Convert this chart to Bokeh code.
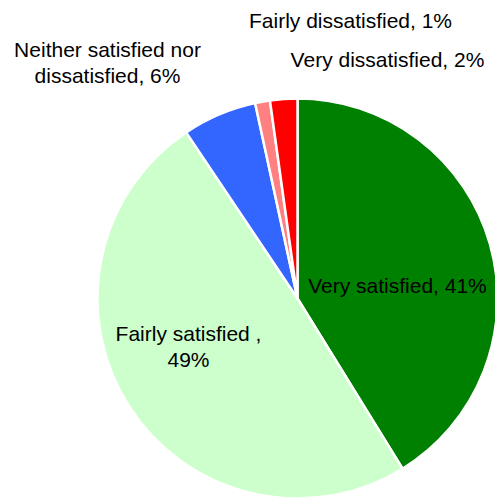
import math
from bokeh.plotting import figure
from bokeh.models import Range1d, ColumnDataSource
from bokeh.core.properties import value
from bokeh.embed import file_html
from bokeh.resources import INLINE

categories = ["Very satisfied", "Fairly satisfied ", "Neither satisfied nor dissatisfied",
              "Fairly dissatisfied", "Very dissatisfied"]
values = [41.2, 49.4, 6.0, 1.2, 2.2]
colors = ["#008000", "#ccffcc", "#3366ff", "#ff8080", "#ff0000"]
label_texts = ["Very satisfied, 41%", "Fairly satisfied ,\n49%", "Neither satisfied nor\ndissatisfied, 6%",
               "Fairly dissatisfied, 1%", "Very dissatisfied, 2%"]
# label anchor positions in pixels (x, y from top)
label_pos = [(397, 285), (188, 346), (107, 62), (350, 20), (387, 59)]

W, H = 495, 498
cx, cy, r = 297, 298, 200

total = sum(values)
starts, ends = [], []
acc = 0.0
for v in values:
    starts.append(math.pi / 2 - 2 * math.pi * acc / total)
    acc += v
    ends.append(math.pi / 2 - 2 * math.pi * acc / total)

src = ColumnDataSource(dict(cat=categories, val=values, color=colors, start=starts, end=ends))

p = figure(width=W, height=H, output_backend="svg", toolbar_location=None,
           x_range=Range1d(0, W), y_range=Range1d(0, H), min_border=0)
p.axis.visible = False
p.grid.visible = False
p.outline_line_color = None
p.background_fill_color = "white"

p.wedge(x=cx, y=H - cy, radius=r, start_angle="start", end_angle="end", direction="clock",
        fill_color="color", line_color="white", line_width=2.5, source=src)

p.text(x=[q[0] for q in label_pos], y=[H - q[1] for q in label_pos], text=label_texts,
       text_font=value("Liberation Sans"), text_font_size="21px", text_color="black",
       text_align="center", text_baseline="middle", text_line_height=1.15)

open("out.html", "w").write(file_html(p, INLINE))
